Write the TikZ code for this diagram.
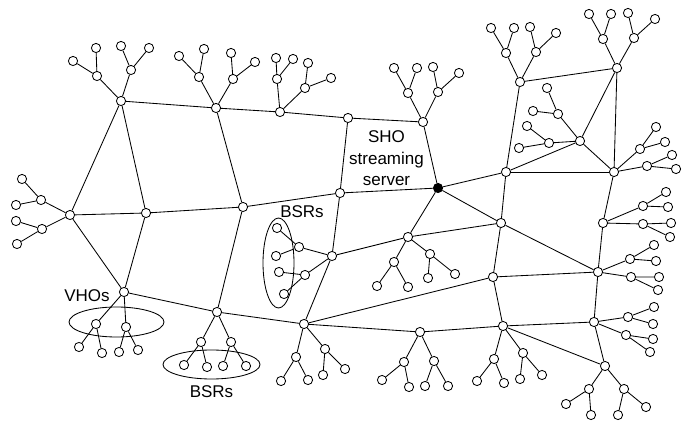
\documentclass[tikz,border=0pt]{standalone}
\usepackage{fontspec}
\setmainfont{Liberation Sans}
\begin{document}
\begin{tikzpicture}[x=1pt,y=-1pt,
  nd/.style={circle,draw,fill=white,inner sep=0pt,minimum size=9.2pt,line width=0.85pt},
  blk/.style={circle,draw,fill=black,inner sep=0pt,minimum size=9.2pt,line width=0.85pt},
  ln/.style={line width=0.85pt},
  lbl/.style={font=\fontsize{17}{21.5}\selectfont,align=center,inner sep=0pt}]
\fill[white] (0,0) rectangle (686,422);
\useasboundingbox (0,0) rectangle (686,422);
% group ellipses
\draw[ln] (116.5,322) ellipse [x radius=47.5pt, y radius=15pt];
\draw[ln] (211.5,364.5) ellipse [x radius=48.5pt, y radius=14.5pt];
\draw[ln] (278.5,263) ellipse [x radius=15.5pt, y radius=45pt];
% nodes
\foreach \n/\x/\y in {
  A1/121/101, a1/97/76, a1a/73/61, a1b/96/48, a2/131/70, a2a/121/46, a2b/149/48,
  A2/216/108, b1/199/77, b1a/179/56, b1b/204/49, b2/233/79, b2a/231/53, b2b/255/62,
  A3/280/112, c1/277/79, c1a/276/58, c1b/293/59, c2/305/88, c2a/308/63, c2b/331/78,
  A4/348/118,
  A5/423/122, d1/408/93, d1a/394/68, d1b/417/68, d2/438/92, d2a/433/67, d2b/459/73,
  A6/340/193,
  L1/70/215, e1/41/200, e1a/22/179, e1b/16/205, e2/42/229, e2a/16/221, e2b/17/244,
  L2/146/213, L3/243/207,
  V/124/292, v1/96/324, v1a/79/347, v1b/102/353, v2/126/327, v2a/119/352, v2b/138/350,
  M1/217/312, m1/201/342, m1a/184/365, m1b/207/367, m2/231/342, m2a/223/366, m2b/246/366,
  N1/332/256, n1/299/247, n1a/277/228, n1b/276/256, n2/305/275, n2a/279/272, n2b/284/294,
  M2/304/324, o1/296/357, o1a/281/381, o1b/308/380, o2/325/349, o2a/323/375, o2b/345/369,
  M3/420/332, p1/404/362, p1a/382/380, p1b/409/387, p2/434/361, p2a/425/386, p2b/448/386,
  C1/408/237, q1/394/262, q1a/377/286, q1b/408/287, q2/430/254, q2a/428/278, q2b/455/274,
  B1/520/82, r1/506/53, r1a/491/28, r1b/514/28, r2/536/52, r2a/530/27, r2b/556/33,
  B2/617/68, s1/603/39, s1a/589/14, s1b/611/14, s2/634/38, s2a/628/13, s2b/655/19,
  B3/580/141, t1/558/114, t1a/547/88, t1b/533/111, t2/549/143, t2a/527/126, t2b/519/148,
  B4/614/172, u1/640/149, u1a/656/127, u1b/665/142, u2/647/166, u2a/672/155, u2b/676/169,
  B5/506/172, D1/501/223, D4/493/277,
  D2/603/223, w1/643/206, w1a/666/192, w1b/668/207, w2/643/224, w2a/671/223, w2b/670/237,
  D3/598/272, x1/630/259, x1a/654/245, x1b/656/261, x2/631/277, x2a/659/277, x2b/658/290,
  D5/503/326, y1/494/359, y1a/477/381, y1b/504/383, y2/523/353, y2a/520/379, y2b/542/375,
  D6/594/322, z1/628/317, z1a/654/307, z1b/653/324, z2/626/335, z2a/653/339, z2b/650/352,
  D7/605/366, k1/589/389, k1a/566/404, k1b/591/415, k2/624/389, k2a/618/415, k2b/646/407}
  \node[nd] (\n) at (\x,\y) {};
\node[blk] (BLK) at (438,188) {};
% tree branches
\foreach \H/\c in {A1/a, A2/b, A3/c, A5/d, L1/e, V/v, M1/m, N1/n, M2/o, M3/p, C1/q,
  B1/r, B2/s, B3/t, B4/u, D2/w, D3/x, D5/y, D6/z, D7/k}
  \draw[ln] (\H) -- (\c1) (\c1) -- (\c1a) (\c1) -- (\c1b)
            (\H) -- (\c2) (\c2) -- (\c2a) (\c2) -- (\c2b);
% backbone
\foreach \a/\b in {A1/A2, A2/A3, A3/A4, A4/A5, A1/L1, A1/L2, A2/L3, A4/A6, A5/BLK,
  L1/L2, L2/L3, L3/A6, A6/BLK, L1/V, L2/V, V/M1, L3/M1, M1/M2,
  A6/N1, N1/M2, N1/C1, BLK/C1, M2/M3, M3/D5, M2/D4,
  BLK/B5, BLK/D1, D1/D3, B5/D1, C1/D1, D1/D4, D4/D3,
  D4/D5, D5/D6, D5/D7, D6/D7, D3/D6, D2/D3, B4/D2,
  B1/B2, B1/B5, B2/B3, B2/B4, B3/B4, B3/B5, B5/B4}
  \draw[ln] (\a) -- (\b);
% labels
\node[lbl] (sho) at (386.5,158.5) {SHO\\streaming\\server};
\node[lbl] (vho) at (87,295.5) {VHOs};
\node[lbl] (bsr1) at (211.5,391.5) {BSRs};
\node[lbl] (bsr2) at (302,211.5) {BSRs};
\end{tikzpicture}
\end{document}
